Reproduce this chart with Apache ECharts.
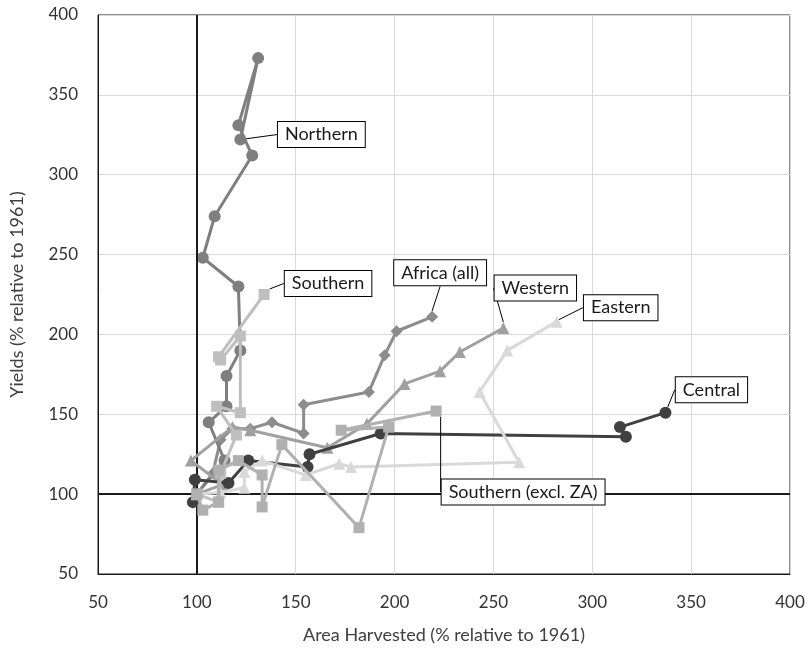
<!DOCTYPE html>
<html>
<head>
<meta charset="utf-8">
<script src="https://cdn.jsdelivr.net/npm/echarts@6/dist/echarts.min.js"></script>
<style>html,body{margin:0;padding:0;background:#fff}#c{width:809px;height:649px}</style>
</head>
<body>
<div id="c"></div>
<script>
// Data: [area harvested %, yield %] relative to 1961
const northern = [[100,100],[114,121],[106,145],[115,155],[115,174],[122,190],[121,230],[103,248],[109,274],[128,312],[121,331],[131,373],[122,322]];
const southern = [[100,100],[111,95],[112,113],[120,137],[110,155],[122,151],[122,199],[112,184],[111,186],[134,225]];
const africaAll = [[100,100],[108,113],[112,134],[118,141],[127,141],[138,145],[154,138],[154,156],[187,164],[195,187],[201,202],[219,211]];
const western = [[100,100],[113,106],[97,121],[118,142],[127,140],[166,129],[186,144],[205,169],[223,177],[233,189],[255,204]];
const eastern = [[100,100],[112,101],[124,104],[124,114],[133,121],[155,112],[172,119],[178,117],[263,120],[243,164],[257,190],[282,208]];
const central = [[98,95],[99,109],[116,107],[126,121],[156,117],[157,125],[193,138],[317,136],[314,142],[337,151]];
const southernExZA = [[100,100],[103,90],[111,95],[111,115],[121,121],[133,112],[133,92],[143,131],[182,79],[197,142],[173,140],[221,152]];

const xTicks = [50,100,150,200,250,300,350,400];
const yTicks = [50,100,150,200,250,300,350,400];

const seriesDefs = [
  {name:'Africa (all)', data:africaAll, color:'#8c8c8c', symbol:'diamond', size:12, dx:8, dy:-44},
  {name:'Northern', data:northern, color:'#7f7f7f', symbol:'circle', size:12, dx:81, dy:-5},
  {name:'Western', data:western, color:'#a0a0a0', symbol:'triangle', size:12, dx:32, dy:-40},
  {name:'Central', data:central, color:'#404040', symbol:'circle', size:12, dx:46, dy:-23},
  {name:'Eastern', data:eastern, color:'#d9d9d9', symbol:'triangle', size:12, dx:64, dy:-14},
  {name:'Southern', data:southern, color:'#bfbfbf', symbol:'rect', size:11, dx:64, dy:-11},
  {name:'Southern (excl. ZA)', data:southernExZA, color:'#b0b0b0', symbol:'rect', size:11, dx:87, dy:81}
];

const chart = echarts.init(document.getElementById('c'));
const font = 'Lato, "Open Sans", sans-serif';

const series = seriesDefs.map((d, si) => {
  const last = d.data.length - 1;
  return {
    type:'line',
    name:d.name,
    data:d.data.map((p, i) => i === last ? {value:p, label:{show:true}} : {value:p}),
    symbol:d.symbol,
    symbolSize:d.size,
    showAllSymbol:true,
    lineStyle:{color:d.color, width:3},
    itemStyle:{color:d.color},
    z: 3 + si,
    label:{
      show:false,
      position:'inside',
      formatter:d.name,
      color:'#1a1a1a',
      fontFamily:font,
      fontSize:18,
      backgroundColor:'#fff',
      borderColor:'#000',
      borderWidth:1,
      padding:[4,7,3,7]
    },
    labelLayout:{dx:d.dx, dy:d.dy},
    labelLine:{show:true, lineStyle:{color:'#000', width:1}},
    emphasis:{disabled:true},
    animation:false
  };
});

series.unshift({
  type:'line', name:'ref', data:[], silent:true,
  markLine:{
    silent:true, symbol:'none', label:{show:false},
    lineStyle:{color:'#1a1a1a', width:2, type:'solid'},
    data:[{xAxis:100},{yAxis:100}]
  },
  z:2, animation:false
});

chart.setOption({
  animation:false,
  grid:{left:97, right:19, top:15, bottom:73, show:true, borderColor:'#1a1a1a', borderWidth:1, backgroundColor:'transparent'},
  xAxis:{
    type:'value', min:xTicks[0], max:xTicks[xTicks.length-1], interval:50,
    name:'Area Harvested (% relative to 1961)', nameLocation:'middle', nameGap:52,
    nameTextStyle:{fontFamily:font, fontSize:18, color:'#404040'},
    axisLine:{show:true, lineStyle:{color:'#1a1a1a'}}, axisTick:{show:false},
    axisLabel:{fontFamily:font, fontSize:17, color:'#333', margin:20},
    splitLine:{show:true, lineStyle:{color:'#d9d9d9', width:1}}
  },
  yAxis:{
    type:'value', min:yTicks[0], max:yTicks[yTicks.length-1], interval:50,
    name:'Yields (% relative to 1961)', nameLocation:'middle', nameGap:72,
    nameTextStyle:{fontFamily:font, fontSize:18, color:'#404040'},
    axisLine:{show:true, lineStyle:{color:'#1a1a1a'}}, axisTick:{show:false},
    axisLabel:{fontFamily:font, fontSize:17, color:'#333', margin:20},
    splitLine:{show:true, lineStyle:{color:'#d9d9d9', width:1}}
  },
  series:series
});
</script>
</body>
</html>
